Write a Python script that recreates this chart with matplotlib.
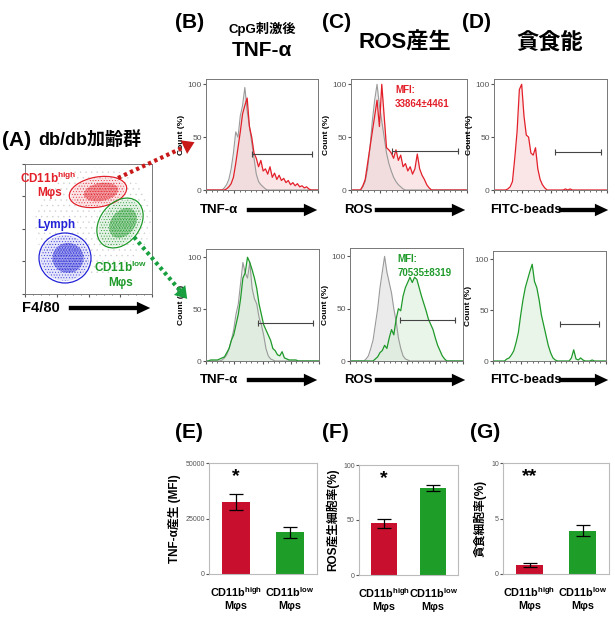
import numpy as np
import matplotlib
matplotlib.use('Agg')
import matplotlib.pyplot as plt
from matplotlib.patches import Ellipse, FancyArrowPatch
from matplotlib.lines import Line2D
from matplotlib.ticker import AutoMinorLocator

plt.rcParams['font.family'] = ['Liberation Sans', 'Noto Sans CJK JP']
plt.rcParams['mathtext.fontset'] = 'custom'
plt.rcParams['mathtext.rm'] = 'Liberation Sans:bold'
plt.rcParams['mathtext.it'] = 'Liberation Sans:bold'
plt.rcParams['mathtext.bf'] = 'Liberation Sans:bold'
plt.rcParams['hatch.linewidth'] = 0.3

# ------------------------------------------------------------
# data
# ------------------------------------------------------------
# histograms: 50 bins along log fluorescence axis, % of max count
tnf_ctrl_high = [0, 0, 0, 0, 0, 0, 0, 0, 2, 5, 10, 20, 35, 55, 50, 70, 80, 97, 75, 60,
                 45, 30, 15, 8, 5, 3, 1, 0, 0, 0, 0, 0, 0, 0, 0, 0, 0, 0, 0, 0,
                 0, 0, 0, 0, 0, 0, 0, 0, 0, 0]
tnf_high = [0, 0, 0, 0, 0, 0, 0, 0, 0, 1, 3, 6, 12, 25, 40, 55, 72, 80, 87, 60,
            50, 35, 30, 22, 28, 18, 20, 15, 22, 12, 16, 10, 14, 9, 11, 7, 9, 5, 7, 4,
            6, 3, 4, 2, 3, 1, 0, 0, 0, 0]
ros_ctrl_high = [0, 0, 0, 0, 0, 3, 8, 20, 40, 65, 85, 100, 80, 65, 50, 35, 25, 18, 12, 8,
                 5, 3, 1, 0, 0, 0, 0, 0, 0, 0, 0, 0, 0, 0, 0, 0, 0, 0, 0, 0,
                 0, 0, 0, 0, 0, 0, 0, 0, 0, 0]
ros_high = [0, 0, 0, 0, 0, 4, 10, 25, 40, 55, 70, 85, 60, 100, 70, 40, 38, 35, 30, 38,
            28, 33, 22, 25, 18, 22, 15, 20, 34, 20, 14, 10, 5, 2, 0, 0, 0, 0, 0, 0,
            0, 0, 0, 0, 0, 0, 0, 0, 0, 0]
fitc_high = [0, 0, 0, 0, 0, 0, 1, 3, 8, 30, 55, 95, 100, 70, 52, 50, 35, 33, 40, 20,
             10, 5, 2, 0, 0, 0, 0, 0, 0, 0, 0, 1, 0, 1, 0, 0, 0, 0, 0, 0,
             0, 0, 0, 0, 0, 0, 0, 0, 0, 0]
tnf_ctrl_low = [0, 0, 0, 0, 0, 0, 0, 1, 3, 6, 12, 20, 30, 45, 55, 75, 95, 85, 80, 95,
                70, 60, 55, 42, 35, 25, 12, 5, 2, 1, 0, 0, 0, 0, 0, 0, 0, 0, 0, 0,
                0, 0, 0, 0, 0, 0, 0, 0, 0, 0]
tnf_low = [0, 0, 1, 1, 1, 1, 2, 3, 4, 8, 12, 20, 25, 35, 45, 60, 80, 85, 100, 95,
           88, 80, 70, 55, 45, 35, 30, 25, 20, 12, 10, 6, 5, 9, 3, 2, 1, 1, 1, 1,
           0, 0, 0, 0, 0, 0, 0, 0, 0, 0]
ros_ctrl_low = [0, 0, 0, 0, 0, 0, 0, 2, 5, 12, 20, 35, 50, 70, 85, 100, 85, 75, 65, 50,
                38, 22, 12, 5, 2, 1, 0, 0, 0, 0, 0, 0, 0, 0, 0, 0, 0, 0, 0, 0,
                0, 0, 0, 0, 0, 0, 0, 0, 0, 0]
ros_low = [0, 0, 0, 0, 0, 0, 0, 0, 0, 0, 0, 2, 4, 8, 10, 15, 12, 22, 30, 25,
           40, 50, 48, 62, 70, 75, 80, 75, 80, 78, 70, 62, 55, 48, 40, 35, 30, 22, 15, 10,
           5, 2, 0, 0, 0, 0, 0, 0, 0, 0]
fitc_low = [0, 0, 0, 0, 0, 0, 2, 3, 6, 10, 18, 28, 45, 60, 72, 80, 88, 95, 78, 72,
            60, 45, 35, 25, 15, 8, 3, 1, 0, 0, 0, 0, 0, 0, 3, 11, 2, 1, 3, 1,
            0, 0, 0, 1, 0, 0, 0, 0, 0, 0]

# gates: start, end (fraction of axis), level (%)
gates_top = [(0.41, 0.95, 34), (0.35, 0.92, 37), (0.54, 0.95, 36)]
gates_bot = [(0.46, 0.95, 37), (0.44, 0.93, 39), (0.59, 0.94, 36)]
mfi_high = '33864±4461'
mfi_low = '70535±8319'

# bar charts: CD11b high, CD11b low
groups = [r'CD11b$^{\mathrm{high}}$' + '\nMφs', r'CD11b$^{\mathrm{low}}$' + '\nMφs']
tnf_mfi = [32500, 18700]
tnf_err = [3500, 2300]
ros_pct = [47, 79]
ros_err = [4, 2.5]
phago_pct = [0.8, 3.9]
phago_err = [0.2, 0.5]

# gate ellipses in panel A (center x, center y, width, height, angle)
gate_high = (73, 102, 58, 30, 10)
gate_low = (95, 71, 55, 40, 52)
gate_lymph = (40, 36, 52, 50, 0)

RED = '#e3202a'
GREEN = '#1f9a2a'
BLUE = '#2323d8'
BAR_RED = '#c8102e'
BAR_GREEN = '#1e9e28'

W, H = 615, 622
fig = plt.figure(figsize=(W / 100, H / 100), dpi=100)


def px(l, t, r, b):
    return [l / W, 1 - b / H, (r - l) / W, (b - t) / H]


def ftxt(x, y, s, **kw):
    kw.setdefault('va', 'center')
    fig.text(x / W, 1 - y / H, s, **kw)


def axis_arrow(x0, x1, y):
    fig.add_artist(FancyArrowPatch((x0 / W, 1 - y / H), (x1 / W, 1 - y / H),
                                   transform=fig.transFigure, color='black',
                                   arrowstyle='simple,head_length=0.8,head_width=0.75,tail_width=0.26',
                                   mutation_scale=12, lw=0))


def dotted_arrow(p0, p1, color):
    x0, y0 = p0[0] / W, 1 - p0[1] / H
    x1, y1 = p1[0] / W, 1 - p1[1] / H
    fig.add_artist(Line2D([x0, x0 + (x1 - x0) * 0.9], [y0, y0 + (y1 - y0) * 0.9],
                          transform=fig.transFigure, color=color, lw=3,
                          linestyle=(0, (0.8, 0.8))))
    fig.add_artist(FancyArrowPatch((x0 + (x1 - x0) * 0.85, y0 + (y1 - y0) * 0.85), (x1, y1),
                                   transform=fig.transFigure, color=color,
                                   arrowstyle='-|>,head_length=0.7,head_width=0.45',
                                   mutation_scale=12, lw=0))


def hist_panel(rect, ctrl, sample, line, fill, gate, ytop, mfi=None):
    ax = fig.add_axes(px(*rect))
    x = np.arange(len(sample))
    if ctrl is not None:
        ax.fill_between(x, ctrl, color='#dcdcdc', alpha=0.55, lw=0)
        ax.plot(x, ctrl, color='#9a9a9a', lw=0.8)
    ax.fill_between(x, sample, color=fill, alpha=0.55, lw=0)
    ax.plot(x, sample, color=line, lw=0.9)
    n = len(sample) - 1
    g0, g1, gy = gate
    ax.plot([g0 * n, g1 * n], [gy, gy], color='#444444', lw=0.8,
            marker='|', markersize=5, markeredgewidth=0.8)
    ax.set_xlim(0, n)
    ax.set_ylim(0, ytop)
    ax.set_yticks([0, 50, 100])
    ax.set_xticks(np.linspace(0, n, 5))
    ax.set_xticklabels([])
    ax.xaxis.set_minor_locator(AutoMinorLocator(5))
    ax.tick_params(axis='y', labelsize=6, length=2, pad=1, colors='#555555')
    ax.tick_params(axis='x', which='both', length=2, colors='#555555')
    ax.tick_params(axis='x', which='minor', length=1.2)
    for s in ax.spines.values():
        s.set_color('#777777')
        s.set_linewidth(0.7)
    ax.set_ylabel('Count (%)', fontsize=6, fontweight='bold', labelpad=2)
    if mfi is not None:
        ax.text(mfi[0], 0.95, 'MFI:\n' + mfi[1], transform=ax.transAxes, color=line,
                fontsize=7, fontweight='bold', va='top', linespacing=1.5)
    return ax


def bar_panel(rect, vals, errs, ymax, yticks, ylabel, star, starsize):
    ax = fig.add_axes(px(*rect))
    ax.bar([0, 1], vals, width=0.52, color=[BAR_RED, BAR_GREEN],
           yerr=errs, capsize=5, error_kw=dict(lw=0.9, capthick=0.9, ecolor='black'))
    ax.set_xlim(-0.5, 1.5)
    ax.set_ylim(0, ymax)
    ax.set_yticks(yticks)
    ax.set_xticks([0, 1])
    ax.set_xticklabels(groups, fontsize=7.8, fontweight='bold', linespacing=1.25)
    ax.tick_params(axis='x', length=0, pad=8)
    ax.tick_params(axis='y', labelsize=5, length=2, pad=1, colors='#555555')
    for s in ax.spines.values():
        s.set_color('#bbbbbb')
        s.set_linewidth(0.8)
    ax.set_ylabel(ylabel, fontsize=8.5, fontweight='bold', labelpad=3)
    ax.text(0, ymax * 0.88, star, ha='center', va='center', fontsize=starsize,
            fontweight='bold')
    return ax


# ------------------------------------------------------------
# (A) dot plot with gates
# ------------------------------------------------------------
ftxt(2, 140, '(A)', fontsize=15, fontweight='bold')
ftxt(38, 140, 'db/db加齢群', fontsize=13, fontweight='bold')

axA = fig.add_axes(px(25, 164, 152, 294))
axA.set_xlim(0, 127)
axA.set_ylim(0, 130)
axA.add_patch(Ellipse((68, 72), 118, 108, angle=20, facecolor='none', edgecolor='#b8b8b8',
                      hatch='...', lw=0, alpha=0.6))
for (cx, cy, w, h, a), col in [(gate_high, RED), (gate_low, GREEN), (gate_lymph, BLUE)]:
    axA.add_patch(Ellipse((cx, cy), w * 0.95, h * 0.92, angle=a, facecolor=col, alpha=0.12,
                          lw=0))
    axA.add_patch(Ellipse((cx, cy), w * 0.92, h * 0.9, angle=a, facecolor='none',
                          edgecolor=col, hatch='......', lw=0))
    axA.add_patch(Ellipse((cx + 3, cy), w * 0.6, h * 0.6, angle=a, facecolor=col, alpha=0.35,
                          lw=0))
    axA.add_patch(Ellipse((cx + 3, cy), w * 0.6, h * 0.6, angle=a, facecolor='none',
                          edgecolor=col, hatch='..........', lw=0))
    axA.add_patch(Ellipse((cx, cy), w, h, angle=a, fill=False, edgecolor=col, lw=0.9))
axA.set_xticks(np.linspace(0, 127, 5))
axA.set_yticks(np.linspace(0, 130, 5))
axA.xaxis.set_minor_locator(AutoMinorLocator(4))
axA.set_xticklabels([])
axA.set_yticklabels([])
axA.tick_params(which='both', length=2, colors='#555555')
axA.tick_params(which='minor', length=1)
for s in axA.spines.values():
    s.set_color('#777777')
    s.set_linewidth(0.7)

ftxt(48, 178, r'CD11b$^{\mathrm{high}}$', fontsize=8.5, fontweight='bold', color=RED, ha='center')
ftxt(50, 193, 'Mφs', fontsize=8.5, fontweight='bold', color=RED, ha='center')
ftxt(56, 225, 'Lymph', fontsize=8.5, fontweight='bold', color=BLUE, ha='center')
ftxt(121, 267, r'CD11b$^{\mathrm{low}}$', fontsize=8.5, fontweight='bold', color=GREEN, ha='center')
ftxt(121, 283, 'Mφs', fontsize=8.5, fontweight='bold', color=GREEN, ha='center')

ftxt(22, 308, 'F4/80', fontsize=10.5, fontweight='bold')
axis_arrow(66, 153, 308)

dotted_arrow((118, 178), (197, 141), '#c81818')
dotted_arrow((134, 237), (189, 301), '#18a040')

# ------------------------------------------------------------
# (B)(C)(D) histograms
# ------------------------------------------------------------
ftxt(175, 23, '(B)', fontsize=15, fontweight='bold')
ftxt(262, 29, 'CpG刺激後', fontsize=9.5, fontweight='bold', ha='center')
ftxt(262, 50, 'TNF-α', fontsize=15, fontweight='bold', ha='center')
ftxt(322, 23, '(C)', fontsize=15, fontweight='bold')
ftxt(405, 43, 'ROS産生', fontsize=16, fontweight='bold', ha='center')
ftxt(462, 23, '(D)', fontsize=15, fontweight='bold')
ftxt(550, 44, '貪食能', fontsize=16, fontweight='bold', ha='center')

hist_panel((206, 79, 318, 190), tnf_ctrl_high, tnf_high, RED, '#f7d3d3', gates_top[0], 105)
hist_panel((351, 79, 467, 190), ros_ctrl_high, ros_high, RED, '#f7d3d3', gates_top[1], 105,
           mfi=(0.38, mfi_high))
hist_panel((494, 79, 607, 190), None, fitc_high, RED, '#f7d3d3', gates_top[2], 105)
hist_panel((206, 249, 319, 361), tnf_ctrl_low, tnf_low, GREEN, '#d6eed6', gates_bot[0], 108)
hist_panel((350, 248, 463, 361), ros_ctrl_low, ros_low, GREEN, '#d6eed6', gates_bot[1], 108,
           mfi=(0.42, mfi_low))
hist_panel((493, 251, 606, 361), None, fitc_low, GREEN, '#d6eed6', gates_bot[2], 108)

for y in (210, 380):
    ftxt(200, y, 'TNF-α', fontsize=9.5, fontweight='bold')
    axis_arrow(244, 320, y)
    ftxt(344, y, 'ROS', fontsize=9.5, fontweight='bold')
    axis_arrow(372, 468, y)
    ftxt(490, y, 'FITC-beads', fontsize=9.5, fontweight='bold')
    axis_arrow(556, 611, y)

# ------------------------------------------------------------
# (E)(F)(G) bar charts
# ------------------------------------------------------------
ftxt(175, 433, '(E)', fontsize=15, fontweight='bold')
ftxt(322, 433, '(F)', fontsize=15, fontweight='bold')
ftxt(470, 433, '(G)', fontsize=15, fontweight='bold')

bar_panel((209, 463, 317, 574), tnf_mfi, tnf_err, 50000, [0, 25000, 50000],
          'TNF-α産生 (MFI)', '*', 14)
bar_panel((359, 465, 458, 575), ros_pct, ros_err, 100, [0, 50, 100],
          'ROS産生細胞率(%)', '*', 14)
bar_panel((503, 463, 609, 574), phago_pct, phago_err, 10, [0, 5, 10],
          '貪食細胞率(%)', '**', 14)

fig.savefig('out.png', dpi=100)
